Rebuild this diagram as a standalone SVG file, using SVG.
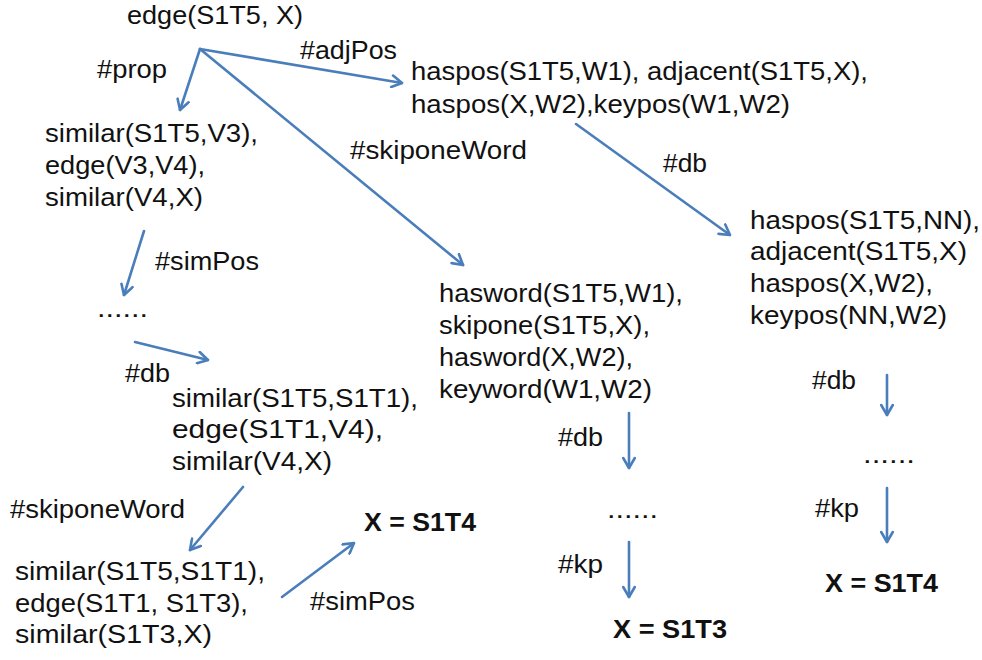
<svg xmlns="http://www.w3.org/2000/svg" width="982" height="660" viewBox="0 0 982 660">
<style>
text{font-family:"Liberation Sans",Arial,sans-serif;font-size:25px;fill:#111;}
.b{font-weight:bold;}
.c{stroke:#4A7EBB;stroke-width:2.6;fill:none;stroke-linecap:round;}
</style>
<defs>
<marker id="ah" viewBox="0 0 14 14" refX="12.5" refY="7" markerWidth="14" markerHeight="14" markerUnits="userSpaceOnUse" orient="auto">
<path d="M2.5,1.2 L12.5,7 L2.5,12.8" fill="none" stroke="#4A7EBB" stroke-width="2.6" stroke-linecap="round" stroke-linejoin="round"/>
</marker>
</defs>
<rect width="982" height="660" fill="#fff"/>
<g id="connectors">
<line class="c" x1="200" y1="49" x2="180" y2="110" marker-end="url(#ah)"/>
<line class="c" x1="200" y1="49" x2="402" y2="83" marker-end="url(#ah)"/>
<line class="c" x1="200" y1="49" x2="463" y2="265" marker-end="url(#ah)"/>
<line class="c" x1="576" y1="124" x2="730" y2="235" marker-end="url(#ah)"/>
<line class="c" x1="144" y1="231" x2="124" y2="295" marker-end="url(#ah)"/>
<line class="c" x1="135" y1="342" x2="208" y2="360" marker-end="url(#ah)"/>
<line class="c" x1="243" y1="487" x2="190" y2="550" marker-end="url(#ah)"/>
<line class="c" x1="282" y1="597" x2="354" y2="543" marker-end="url(#ah)"/>
<line class="c" x1="629" y1="413" x2="629" y2="468" marker-end="url(#ah)"/>
<line class="c" x1="629" y1="542" x2="629" y2="597" marker-end="url(#ah)"/>
<line class="c" x1="887" y1="375" x2="887" y2="415" marker-end="url(#ah)"/>
<line class="c" x1="887" y1="488" x2="887" y2="542" marker-end="url(#ah)"/>
</g>
<g id="labels">
<text x="97" y="78" textLength="70" lengthAdjust="spacingAndGlyphs">#prop</text>
<text x="300" y="59" textLength="97" lengthAdjust="spacingAndGlyphs">#adjPos</text>
<text x="350" y="159" textLength="177" lengthAdjust="spacingAndGlyphs">#skiponeWord</text>
<text x="663" y="172" textLength="44" lengthAdjust="spacingAndGlyphs">#db</text>
<text x="155" y="270" textLength="104" lengthAdjust="spacingAndGlyphs">#simPos</text>
<text x="125" y="382" textLength="45" lengthAdjust="spacingAndGlyphs">#db</text>
<text x="558" y="446" textLength="45" lengthAdjust="spacingAndGlyphs">#db</text>
<text x="558" y="573" textLength="45" lengthAdjust="spacingAndGlyphs">#kp</text>
<text x="812" y="389" textLength="44" lengthAdjust="spacingAndGlyphs">#db</text>
<text x="815" y="517" textLength="44" lengthAdjust="spacingAndGlyphs">#kp</text>
<text x="10" y="518" textLength="175" lengthAdjust="spacingAndGlyphs">#skiponeWord</text>
<text x="310" y="610" textLength="105" lengthAdjust="spacingAndGlyphs">#simPos</text>
</g>
<g id="n-root">
<text x="127" y="24" textLength="176" lengthAdjust="spacingAndGlyphs">edge(S1T5, X)</text>
</g>
<g id="n-adjpos">
<text x="411" y="80" textLength="457" lengthAdjust="spacingAndGlyphs">haspos(S1T5,W1), adjacent(S1T5,X),</text>
<text x="411" y="113" textLength="379" lengthAdjust="spacingAndGlyphs">haspos(X,W2),keypos(W1,W2)</text>
</g>
<g id="n-prop">
<text x="45" y="142" textLength="213" lengthAdjust="spacingAndGlyphs">similar(S1T5,V3),</text>
<text x="45" y="174" textLength="160" lengthAdjust="spacingAndGlyphs">edge(V3,V4),</text>
<text x="45" y="206" textLength="158" lengthAdjust="spacingAndGlyphs">similar(V4,X)</text>
</g>
<g id="n-adjdb">
<text x="750" y="229" textLength="230" lengthAdjust="spacingAndGlyphs">haspos(S1T5,NN),</text>
<text x="750" y="260" textLength="217" lengthAdjust="spacingAndGlyphs">adjacent(S1T5,X)</text>
<text x="750" y="292" textLength="183" lengthAdjust="spacingAndGlyphs">haspos(X,W2),</text>
<text x="750" y="324" textLength="197" lengthAdjust="spacingAndGlyphs">keypos(NN,W2)</text>
</g>
<g id="n-dots1">
<text x="97" y="317" textLength="51" lengthAdjust="spacingAndGlyphs">......</text>
</g>
<g id="n-skip">
<text x="439" y="302" textLength="244" lengthAdjust="spacingAndGlyphs">hasword(S1T5,W1),</text>
<text x="439" y="334" textLength="211" lengthAdjust="spacingAndGlyphs">skipone(S1T5,X),</text>
<text x="439" y="366" textLength="194" lengthAdjust="spacingAndGlyphs">hasword(X,W2),</text>
<text x="439" y="398" textLength="213" lengthAdjust="spacingAndGlyphs">keyword(W1,W2)</text>
</g>
<g id="n-simdb">
<text x="172" y="407" textLength="246" lengthAdjust="spacingAndGlyphs">similar(S1T5,S1T1),</text>
<text x="172" y="438" textLength="211" lengthAdjust="spacingAndGlyphs">edge(S1T1,V4),</text>
<text x="172" y="470" textLength="160" lengthAdjust="spacingAndGlyphs">similar(V4,X)</text>
</g>
<g id="n-dots2">
<text x="607" y="518" textLength="51" lengthAdjust="spacingAndGlyphs">......</text>
</g>
<g id="n-dots3">
<text x="863" y="463" textLength="52" lengthAdjust="spacingAndGlyphs">......</text>
</g>
<g id="n-simskip">
<text x="15" y="580" textLength="250" lengthAdjust="spacingAndGlyphs">similar(S1T5,S1T1),</text>
<text x="15" y="612" textLength="233" lengthAdjust="spacingAndGlyphs">edge(S1T1, S1T3),</text>
<text x="15" y="643" textLength="197" lengthAdjust="spacingAndGlyphs">similar(S1T3,X)</text>
</g>
<g id="n-res1">
<text class="b" x="364" y="531" textLength="112" lengthAdjust="spacingAndGlyphs">X = S1T4</text>
</g>
<g id="n-res2">
<text class="b" x="613" y="638" textLength="114" lengthAdjust="spacingAndGlyphs">X = S1T3</text>
</g>
<g id="n-res3">
<text class="b" x="825" y="592" textLength="113" lengthAdjust="spacingAndGlyphs">X = S1T4</text>
</g>
</svg>
